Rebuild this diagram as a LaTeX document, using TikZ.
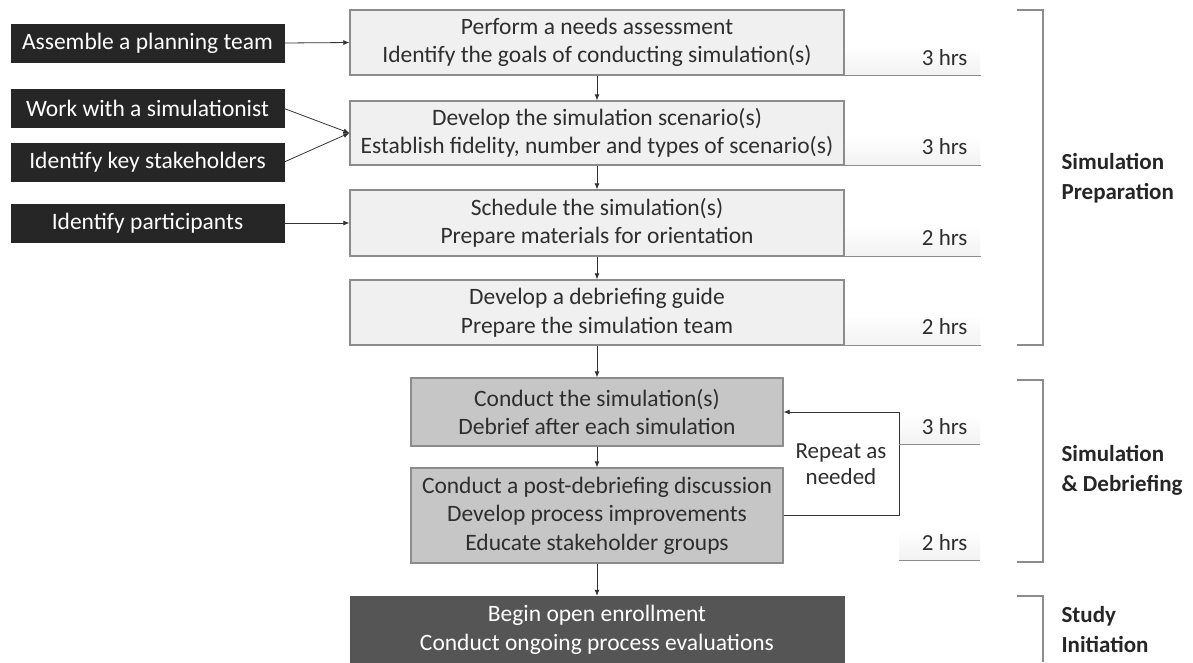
\documentclass[tikz,border=0pt]{standalone}
\usepackage{fontspec}
\setmainfont{Carlito}
\usetikzlibrary{arrows.meta,calc}
\definecolor{lightbox}{HTML}{F0F0F0}
\definecolor{midbox}{HTML}{C6C6C6}
\definecolor{darkbox}{HTML}{555555}
\definecolor{blackbox}{HTML}{262626}
\definecolor{edge}{HTML}{8C8C8C}
\definecolor{txt}{HTML}{2E2E2E}
\tikzset{
  every node/.style={font=\fontsize{23.5}{28.5}\selectfont, text=txt},
  inbox/.style={fill=blackbox, draw=blackbox, text=white, minimum width=273pt, minimum height=38pt, inner sep=0pt},
  mainbox/.style={fill=lightbox, draw=edge, line width=1.3pt, minimum width=494pt, inner sep=0pt, align=center},
  simbox/.style={fill=midbox, draw=edge, line width=1.3pt, minimum width=372pt, inner sep=0pt, align=center},
  endbox/.style={fill=darkbox, draw=darkbox, text=white, minimum width=494pt, inner sep=0pt, align=center},
  arr/.style={draw=black!80, line width=0.8pt, -{Latex[length=6pt,width=5pt]}},
  hrsline/.style={draw=black!45, line width=1pt},
  hrs/.style={anchor=east, text=txt, font=\fontsize{23}{28}\selectfont},
  brace/.style={draw=black!45, line width=1.2pt},
  phase/.style={anchor=west, align=left, font=\fontsize{23}{30}\selectfont\bfseries, text=black!85},
  hshade/.style={top color=white, bottom color=black!5, draw=none}
}
\begin{document}
\begin{tikzpicture}[x=1pt,y=-1pt]
\useasboundingbox[fill=white] (0,0) rectangle (1193,662);

% hrs shading
\fill[hshade] (844,45) rectangle (980,75);
\fill[hshade] (844,135) rectangle (980,165);
\fill[hshade] (844,226) rectangle (980,256);
\fill[hshade] (844,315) rectangle (980,345);
\fill[hshade] (899,414) rectangle (980,444);
\fill[hshade] (899,530) rectangle (980,560);

% main boxes
\node[mainbox, minimum height=65pt] (b1) at (597,42.5) {Perform a needs assessment\\Identify the goals of conducting simulation(s)};
\node[mainbox, minimum height=64pt] (b2) at (597,133) {Develop the simulation scenario(s)\\Establish fidelity, number and types of scenario(s)};
\node[mainbox, minimum height=66pt] (b3) at (597,223) {Schedule the simulation(s)\\Prepare materials for orientation};
\node[mainbox, minimum height=65pt] (b4) at (597,312.5) {Develop a debriefing guide\\Prepare the simulation team};
\node[simbox, minimum height=68pt] (b5) at (597,412) {Conduct the simulation(s)\\Debrief after each simulation};
\node[simbox, minimum height=95pt] (b6) at (597,515.5) {Conduct a post-debriefing discussion\\Develop process improvements\\Educate stakeholder groups};
\node[endbox, minimum height=68pt] (b7) at (597,630) {Begin open enrollment\\Conduct ongoing process evaluations};

% input boxes
\node[inbox] (i1) at (147.5,43) {Assemble a planning team};
\node[inbox] (i2) at (147.5,108.5) {Work with a simulationist};
\node[inbox] (i3) at (147.5,162) {Identify key stakeholders};
\node[inbox] (i4) at (147.5,223) {Identify participants};

% input arrows
\draw[arr] (i1.east) -- (b1.west);
\draw[arr] (i2.east) -- (b2.west);
\draw[arr] (i3.east) -- (b2.west);
\draw[arr] (i4.east) -- (b3.west);

% flow arrows
\draw[arr] (b1.south) -- (b2.north);
\draw[arr] (b2.south) -- (b3.north);
\draw[arr] (b3.south) -- (b4.north);
\draw[arr] (b4.south) -- (b5.north);
\draw[arr] (b5.south) -- (b6.north);
\draw[arr] (b6.south) -- (b7.north);

% repeat loop
\coordinate (rp) at (899,412);
\draw[arr] (b6.east) -| (rp) -- (b5.east);
\node[align=center, font=\fontsize{23}{26}\selectfont] (rep) at (841,464) {Repeat as\\needed};

% hrs lines and labels
\draw[hrsline] (b1.south east) -- ++(136,0);
\draw[hrsline] (b2.south east) -- ++(136,0);
\draw[hrsline] (b3.south east) -- ++(136,0);
\draw[hrsline] (b4.south east) -- ++(136,0);
\draw[hrsline] (899,444) -- (980,444);
\draw[hrsline] (899,560) -- (980,560);
\node[hrs] (h1) at (971,58) {3 hrs};
\node[hrs] (h2) at (971,147) {3 hrs};
\node[hrs] (h3) at (971,238) {2 hrs};
\node[hrs] (h4) at (971,327) {2 hrs};
\node[hrs] (h5) at (971,427) {3 hrs};
\node[hrs] (h6) at (971,543) {2 hrs};

% brackets
\draw[brace] (1017,10) -- (1043,10) -- (1043,345) -- (1017,345);
\draw[brace] (1017,380) -- (1043,380) -- (1043,562) -- (1017,562);
\draw[brace] (1017,596) -- (1043,596) -- (1043,662);
\node[phase] (p1) at (1058,178) {Simulation\\Preparation};
\node[phase] (p2) at (1058,470) {Simulation\\\& Debriefing};
\node[phase] (p3) at (1058,630) {Study\\Initiation};
\end{tikzpicture}
\end{document}
